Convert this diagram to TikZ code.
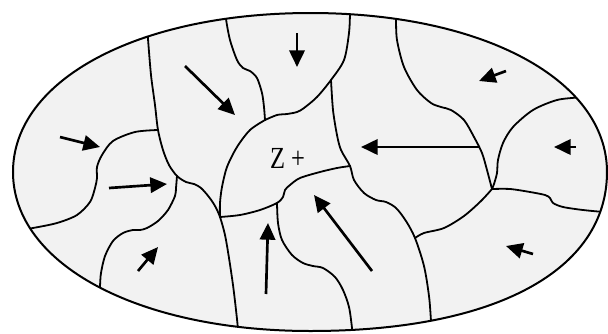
\documentclass[tikz,border=0pt]{standalone}
\usepackage{fontspec}
\newfontfamily\zfont{Liberation Serif}
\usetikzlibrary{arrows.meta}
\definecolor{regfill}{HTML}{F2F2F2}
\begin{document}
\begin{tikzpicture}[x=0.75pt,y=-0.75pt,
  region/.style={line width=1.35pt, line join=round, line cap=round},
  rim/.style={line width=1.5pt},
  flow/.style={line width=2pt, -{Triangle[length=12.5pt,width=11.5pt]}},
  ztext/.style={font=\zfont\fontsize{23}{27}\selectfont, inner sep=0pt, anchor=base, xscale=0.8},
]
\useasboundingbox (0,0) rectangle (608,333);
\def\ellpath{(310.5,13) .. controls (483.1,13) and (607,79.8) .. (607,172)
  .. controls (607,270.6) and (495,331) .. (310.5,331)
  .. controls (137.9,331) and (13,264.2) .. (13,172)
  .. controls (13,79.8) and (137.9,13) .. (310.5,13) -- cycle}
\fill[regfill] \ellpath;
% junctions
\coordinate (jA1) at (158,130);
\coordinate (jA2) at (177,176);
\coordinate (jBC) at (265,120);
\coordinate (jCH) at (331,80);
\coordinate (jZ1) at (220,217);
\coordinate (jZ2) at (277,203);
\coordinate (jH) at (350,166);
\coordinate (jDE) at (492,189);
\coordinate (jGH) at (415,238);
\begin{scope}
\clip \ellpath;
% curve A
\draw[region] plot[smooth] coordinates {(147,26) (148,39) (151,75) (155,105) (jA1) (163,150) (169,165) (jA2) (186,182) (194,184) (201,188) (209,197) (215,206) (jZ1) (225,235) (229,258) (233,285) (236,310) (238,330) (238,344)};
% left loop top
\draw[region] plot[smooth] coordinates {(jA1) (135,132) (113,141) (102,155) (97,167) (97,178) (95,188) (90,202) (77,215) (57,223) (33,228) (15,231)};
% left loop bottom
\draw[region] plot[smooth] coordinates {(jA2) (176,188) (175,196) (168,210) (158,221) (147,228) (140,230) (133,230) (123,233) (113,241) (105,256) (101,273) (100,286) (99,300)};
% curve B
\draw[region] plot[smooth] coordinates {(225,6) (226,19) (230,40) (237,60) (243,68) (250,71) (257,78) (262,93) (264,107) (jBC)};
% curve C
\draw[region] plot[smooth] coordinates {(350,0) (350,13) (349,33) (344,60) (jCH) (317,97) (304,108) (297,112) (287,114) (277,115) (jBC)};
% Z+ left
\draw[region] plot[smooth] coordinates {(jBC) (250,130) (237,147) (227,167) (222,187) (220,203) (jZ1)};
% Z+ bottom
\draw[region] plot[smooth] coordinates {(jZ1) (240,215) (260,210) (jZ2) (283,197) (285,190) (290,185) (300,178) (320,172) (337,168) (jH)};
% curve H
\draw[region] plot[smooth] coordinates {(jCH) (333,110) (337,135) (341,150) (jH) (354,180) (364,193) (376,200) (386,202) (396,208) (406,221) (jGH) (424,266) (429,296) (431,321) (432,340)};
% curve I
\draw[region] plot[smooth] coordinates {(jZ2) (278,223) (282,240) (292,255) (303,263) (313,266) (323,268) (335,277) (343,290) (349,307) (352,328) (353,342)};
% curve D
\draw[region] plot[smooth] coordinates {(396,5) (396,18) (397,40) (404,67) (417,90) (431,103) (441,107) (451,110) (464,120) (474,137) (482,153) (487,170) (jDE)};
% curve E
\draw[region] plot[smooth] coordinates {(594,92) (580,97) (557,100) (533,110) (513,127) (503,143) (498,160) (497,173) (494,184) (jDE)};
% curve F
\draw[region] plot[smooth] coordinates {(jDE) (510,189) (530,192) (545,195) (550,198) (553,203) (563,207) (583,210) (605,212) (620,212)};
% curve G
\draw[region] plot[smooth] coordinates {(jDE) (481,201) (464,216) (444,228) (424,233) (jGH)};
\end{scope}
\draw[rim] \ellpath;
% arrows
\draw[flow] (297,33) -- (297,67);
\draw[flow] (185,66) -- (235,115);
\draw[flow] (60,137) -- (100,147);
\draw[flow] (109,188) -- (167,184);
\draw[flow] (138,271) -- (158,247);
\draw[flow] (266,294) -- (268,223);
\draw[flow] (372,271) -- (314,195);
\draw[flow] (533,254) -- (506,246);
\draw[flow] (480,147) -- (361,147);
\draw[flow] (576,147) -- (554,147);
\draw[flow] (506,71) -- (479,81);
\node[ztext] (zlabel) at (287.5,168) {Z +};
\end{tikzpicture}
\end{document}
